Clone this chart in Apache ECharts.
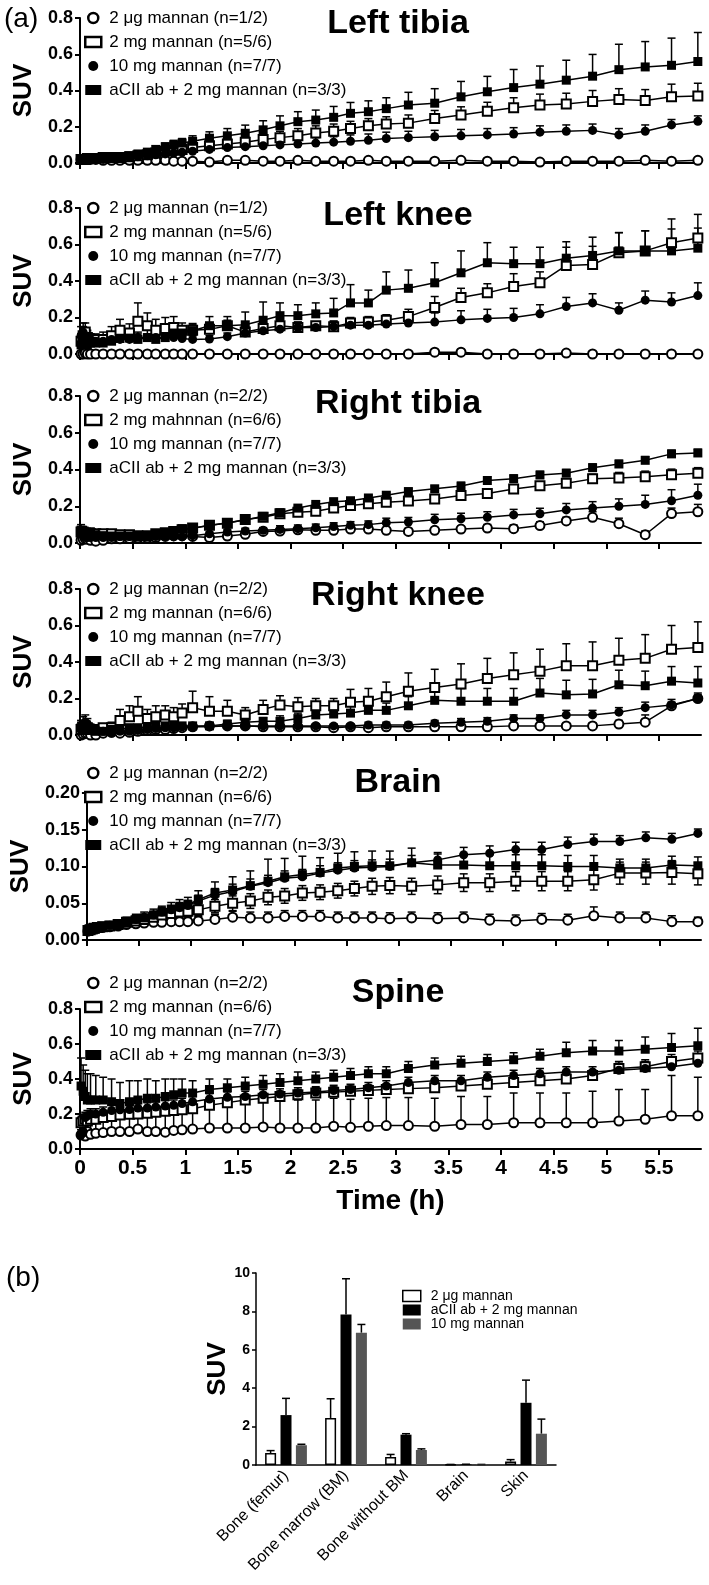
<!DOCTYPE html>
<html><head><meta charset="utf-8">
<script src="https://cdn.jsdelivr.net/npm/echarts@6/dist/echarts.min.js"></script>
<style>html,body{margin:0;padding:0;background:#fff}#c{width:709px;height:1585px}</style>
</head><body><div id="c"></div>
<script>
// ---------- DATA ----------
const T = [0.01,0.03,0.05,0.07,0.1,0.15,0.22,0.3,0.38,0.47, 0.55,0.64,0.72,0.81,0.89,0.97, 1.07,1.23,1.4,1.57,1.74,1.9,2.07,2.24,2.41,2.57,2.74,2.91, 3.12,3.37,3.62,3.87,4.12,4.37,4.62,4.87,5.12,5.37,5.62,5.87];
const xTickVals = [0,0.5,1,1.5,2,2.5,3,3.5,4,4.5,5,5.5];
const xTickLabels = ['0','0.5','1','1.5','2','2.5','3','3.5','4','4.5','5','5.5'];

const namesA = ['2 μg mannan (n=1/2)','2 mg mannan (n=5/6)','10 mg mannan (n=7/7)','aCII ab + 2 mg mannan (n=3/3)'];
const namesRT = ['2 μg mannan (n=2/2)','2 mg mahnnan (n=6/6)','10 mg mannan (n=7/7)','aCII ab + 2 mg mannan (n=3/3)'];
const namesB = ['2 μg mannan (n=2/2)','2 mg mannan (n=6/6)','10 mg mannan (n=7/7)','aCII ab + 2 mg mannan (n=3/3)'];

// Left tibia
const lt_ug = [0.02,0.02,0.02,0.02,0.02,0.02,0.015,0.015,0.015,0.015, 0.015,0.015,0.015,0.015,0.01,0.01, 0.01,0.005,0.015,0.015,0.01,0.01,0.015,0.01,0.01,0.01,0.015,0.01, 0.01,0.01,0.015,0.01,0.01,0.005,0.01,0.01,0.01,0.015,0.01,0.015];
const lt_2mg = [0.02,0.02,0.02,0.025,0.025,0.025,0.03,0.03,0.03,0.035, 0.04,0.045,0.055,0.065,0.07,0.075, 0.085,0.095,0.105,0.115,0.13,0.14,0.15,0.165,0.175,0.19,0.205,0.215, 0.22,0.245,0.265,0.285,0.305,0.32,0.325,0.34,0.35,0.345,0.365,0.37];
const lt_2mg_e = [0.005,0.005,0.005,0.005,0.005,0.005,0.005,0.005,0.01,0.01, 0.01,0.015,0.015,0.02,0.02,0.025, 0.025,0.03,0.03,0.03,0.035,0.035,0.04,0.04,0.04,0.04,0.04,0.04, 0.045,0.045,0.045,0.05,0.055,0.06,0.06,0.06,0.06,0.06,0.07,0.07];
const lt_10 = [0.02,0.02,0.02,0.02,0.02,0.02,0.02,0.025,0.025,0.03, 0.035,0.04,0.045,0.05,0.055,0.06, 0.065,0.075,0.085,0.09,0.095,0.1,0.105,0.11,0.115,0.12,0.125,0.135, 0.14,0.145,0.15,0.155,0.16,0.17,0.175,0.18,0.155,0.175,0.21,0.23];
const lt_10_e = [0.005,0.005,0.005,0.005,0.005,0.005,0.01,0.01,0.01,0.01, 0.01,0.015,0.015,0.015,0.02,0.02, 0.02,0.025,0.025,0.03,0.03,0.03,0.03,0.03,0.03,0.035,0.035,0.035, 0.035,0.035,0.035,0.035,0.035,0.035,0.035,0.035,0.035,0.035,0.03,0.03];
const lt_ab = [0.02,0.02,0.02,0.02,0.025,0.025,0.03,0.03,0.035,0.04, 0.05,0.06,0.075,0.09,0.1,0.11, 0.12,0.137,0.15,0.164,0.183,0.205,0.228,0.237,0.252,0.274,0.283,0.3, 0.32,0.33,0.365,0.393,0.416,0.435,0.457,0.479,0.515,0.53,0.539,0.56];
const lt_ab_e = [0.005,0.005,0.005,0.005,0.005,0.005,0.005,0.01,0.01,0.01, 0.01,0.015,0.02,0.02,0.025,0.025, 0.03,0.035,0.04,0.045,0.05,0.055,0.055,0.055,0.06,0.06,0.06,0.06, 0.07,0.08,0.085,0.085,0.1,0.1,0.11,0.12,0.14,0.14,0.15,0.16];

// Left knee
const lk_ug = [0,0,0.005,0,0,0,0,0,0,0, 0,0,0,0,0,0, 0,0,0,0,0,0,0,0,0,0,0,0, 0,0.01,0.01,0,0,0,0.005,0,0,0,0,0];
const lk_2mg = [0.07,0.1,0.12,0.09,0.08,0.08,0.08,0.1,0.13,0.115, 0.18,0.155,0.13,0.14,0.145,0.13, 0.13,0.135,0.155,0.12,0.14,0.155,0.145,0.155,0.15,0.17,0.175,0.185, 0.205,0.255,0.31,0.335,0.37,0.39,0.485,0.49,0.555,0.565,0.61,0.635];
const lk_2mg_e = [0.04,0.05,0.05,0.04,0.03,0.03,0.04,0.05,0.06,0.05, 0.1,0.07,0.06,0.06,0.06,0.04, 0.03,0.03,0.03,0.03,0.03,0.03,0.03,0.02,0.03,0.03,0.03,0.03, 0.04,0.06,0.05,0.05,0.07,0.06,0.1,0.1,0.11,0.11,0.13,0.13];
const lk_10 = [0.1,0.12,0.1,0.09,0.08,0.07,0.07,0.08,0.08,0.08, 0.09,0.09,0.09,0.09,0.09,0.085, 0.08,0.082,0.095,0.115,0.127,0.136,0.145,0.145,0.15,0.158,0.158,0.164, 0.17,0.175,0.187,0.195,0.2,0.22,0.26,0.28,0.24,0.295,0.285,0.32];
const lk_10_e = [0.05,0.05,0.04,0.03,0.03,0.03,0.02,0.02,0.02,0.02, 0.02,0.02,0.02,0.02,0.02,0.02, 0.02,0.02,0.02,0.02,0.03,0.03,0.03,0.03,0.03,0.03,0.03,0.04, 0.04,0.05,0.05,0.05,0.05,0.05,0.05,0.05,0.04,0.05,0.05,0.07];
const lk_ab = [0.05,0.06,0.06,0.05,0.06,0.06,0.06,0.07,0.085,0.087, 0.08,0.09,0.08,0.09,0.115,0.115, 0.127,0.155,0.155,0.16,0.185,0.21,0.21,0.22,0.225,0.28,0.28,0.35, 0.36,0.39,0.445,0.5,0.495,0.495,0.525,0.54,0.565,0.565,0.565,0.58];
const lk_ab_e = [0.05,0.06,0.05,0.04,0.03,0.03,0.03,0.03,0.04,0.04, 0.04,0.04,0.04,0.03,0.03,0.03, 0.04,0.05,0.05,0.07,0.1,0.07,0.06,0.06,0.08,0.1,0.07,0.1, 0.1,0.11,0.12,0.11,0.09,0.09,0.09,0.1,0.1,0.11,0.12,0.11];

// Right tibia
const rt_ug = [0.015,0.02,0.025,0.02,0.015,0.01,0.015,0.023,0.023,0.025, 0.027,0.027,0.03,0.036,0.04,0.04, 0.036,0.03,0.038,0.047,0.063,0.065,0.072,0.069,0.069,0.076,0.076,0.069, 0.063,0.069,0.076,0.081,0.078,0.095,0.12,0.14,0.105,0.045,0.16,0.17];
const rt_ug_e = [0.01,0.01,0.01,0.01,0.01,0.01,0.01,0.01,0.01,0.01, 0.01,0.01,0.01,0.01,0.01,0.01, 0.01,0.01,0.01,0.01,0.01,0.015,0.015,0.015,0.015,0.015,0.015,0.015, 0.015,0.015,0.015,0.02,0.02,0.02,0.02,0.03,0.03,0.02,0.03,0.04];
const rt_2mg = [0.06,0.06,0.055,0.05,0.05,0.05,0.05,0.05,0.045,0.045, 0.04,0.04,0.05,0.056,0.063,0.072, 0.081,0.096,0.108,0.128,0.14,0.159,0.168,0.173,0.19,0.204,0.213,0.222, 0.228,0.24,0.258,0.27,0.294,0.312,0.325,0.349,0.354,0.361,0.372,0.38];
const rt_2mg_e = [0.02,0.02,0.02,0.02,0.01,0.01,0.01,0.01,0.01,0.01, 0.01,0.01,0.01,0.01,0.01,0.01, 0.01,0.01,0.015,0.015,0.015,0.02,0.02,0.02,0.02,0.02,0.02,0.02, 0.02,0.02,0.02,0.02,0.02,0.02,0.025,0.025,0.03,0.03,0.03,0.03];
const rt_10 = [0.05,0.04,0.03,0.03,0.03,0.03,0.03,0.03,0.035,0.035, 0.035,0.035,0.035,0.035,0.033,0.033, 0.04,0.05,0.06,0.065,0.069,0.074,0.078,0.083,0.09,0.096,0.1,0.11, 0.114,0.126,0.132,0.14,0.153,0.159,0.18,0.19,0.2,0.21,0.23,0.26];
const rt_10_e = [0.02,0.02,0.01,0.01,0.01,0.01,0.01,0.01,0.01,0.01, 0.01,0.01,0.01,0.01,0.01,0.01, 0.01,0.01,0.015,0.015,0.015,0.02,0.02,0.02,0.02,0.02,0.02,0.025, 0.025,0.03,0.03,0.03,0.03,0.03,0.035,0.035,0.04,0.05,0.06,0.06];
const rt_ab = [0.07,0.06,0.05,0.05,0.06,0.045,0.04,0.038,0.038,0.038, 0.038,0.04,0.047,0.056,0.065,0.078, 0.08,0.095,0.11,0.125,0.145,0.165,0.19,0.21,0.225,0.23,0.245,0.26, 0.28,0.295,0.31,0.34,0.35,0.37,0.38,0.41,0.43,0.45,0.485,0.49];
const rt_ab_e = [0.03,0.03,0.02,0.02,0.02,0.01,0.01,0.01,0.01,0.01, 0.01,0.01,0.01,0.01,0.01,0.01, 0.01,0.01,0.01,0.01,0.01,0.01,0.01,0.01,0.015,0.015,0.015,0.015, 0.015,0.015,0.02,0.02,0.02,0.02,0.02,0.02,0.02,0.02,0.02,0.02];

// Right knee
const rk_ug = [0,0.005,0.01,0.01,0,0,0.01,0.015,0.01,0.015, 0.02,0.025,0.03,0.03,0.035,0.04, 0.045,0.05,0.05,0.05,0.045,0.045,0.045,0.045,0.04,0.045,0.04,0.045, 0.045,0.045,0.045,0.045,0.05,0.05,0.05,0.05,0.06,0.07,0.16,0.2];
const rk_ug_e = [0.005,0.005,0.005,0.005,0.005,0.005,0.005,0.005,0.005,0.005, 0.005,0.005,0.005,0.005,0.005,0.005, 0.01,0.01,0.01,0.01,0.01,0.01,0.01,0.01,0.01,0.01,0.01,0.01, 0.01,0.01,0.01,0.01,0.01,0.01,0.01,0.015,0.02,0.04,0.02,0.02];
const rk_2mg = [0.03,0.04,0.05,0.04,0.03,0.03,0.04,0.04,0.08,0.1, 0.13,0.09,0.1,0.11,0.1,0.12, 0.15,0.13,0.13,0.11,0.14,0.165,0.155,0.16,0.16,0.18,0.185,0.21, 0.24,0.26,0.28,0.31,0.33,0.35,0.38,0.38,0.41,0.42,0.47,0.48];
const rk_2mg_e = [0.02,0.03,0.03,0.02,0.02,0.02,0.02,0.03,0.06,0.06, 0.08,0.05,0.06,0.05,0.05,0.05, 0.09,0.08,0.06,0.04,0.05,0.05,0.05,0.04,0.04,0.07,0.07,0.08, 0.1,0.1,0.11,0.11,0.12,0.12,0.12,0.13,0.12,0.13,0.13,0.14];
const rk_10 = [0.05,0.06,0.07,0.06,0.04,0.03,0.02,0.01,0.02,0.02, 0.025,0.03,0.035,0.04,0.04,0.045, 0.045,0.045,0.05,0.05,0.05,0.05,0.05,0.05,0.05,0.05,0.055,0.055, 0.055,0.065,0.07,0.075,0.09,0.09,0.11,0.11,0.125,0.15,0.165,0.2];
const rk_10_e = [0.03,0.04,0.04,0.03,0.02,0.01,0.01,0.01,0.01,0.01, 0.01,0.01,0.01,0.01,0.01,0.01, 0.01,0.01,0.01,0.01,0.01,0.01,0.01,0.01,0.01,0.01,0.015,0.015, 0.015,0.015,0.02,0.02,0.02,0.02,0.025,0.025,0.025,0.03,0.03,0.03];
const rk_ab = [0.04,0.05,0.04,0.03,0.03,0.02,0.02,0.03,0.03,0.04, 0.04,0.045,0.05,0.05,0.05,0.05, 0.05,0.05,0.06,0.07,0.075,0.075,0.09,0.11,0.115,0.12,0.135,0.135, 0.16,0.19,0.185,0.185,0.185,0.23,0.22,0.225,0.275,0.27,0.295,0.285];
const rk_ab_e = [0.03,0.03,0.02,0.02,0.01,0.01,0.01,0.01,0.01,0.01, 0.01,0.01,0.01,0.01,0.01,0.01, 0.01,0.01,0.02,0.02,0.02,0.03,0.03,0.04,0.04,0.04,0.04,0.04, 0.05,0.06,0.07,0.07,0.07,0.08,0.08,0.08,0.08,0.08,0.08,0.09];

// Brain
const br_ug = [0.012,0.013,0.014,0.015,0.016,0.017,0.018,0.019,0.021,0.022, 0.023,0.024,0.024,0.025,0.025,0.025, 0.026,0.028,0.031,0.03,0.03,0.032,0.032,0.032,0.03,0.03,0.03,0.029, 0.03,0.029,0.03,0.027,0.026,0.028,0.027,0.033,0.03,0.03,0.025,0.025];
const br_ug_e = [0.001,0.001,0.001,0.001,0.002,0.002,0.002,0.002,0.002,0.003, 0.003,0.003,0.004,0.004,0.004,0.005, 0.006,0.007,0.008,0.008,0.008,0.008,0.008,0.008,0.008,0.008,0.008,0.008, 0.008,0.008,0.008,0.008,0.008,0.008,0.008,0.012,0.008,0.008,0.008,0.006];
const br_2mg = [0.013,0.014,0.015,0.016,0.017,0.018,0.019,0.021,0.024,0.026, 0.028,0.031,0.034,0.036,0.038,0.039, 0.041,0.046,0.05,0.053,0.058,0.06,0.064,0.065,0.067,0.07,0.073,0.074, 0.073,0.075,0.078,0.078,0.08,0.08,0.08,0.082,0.091,0.091,0.092,0.09];
const br_2mg_e = [0.001,0.001,0.001,0.001,0.002,0.002,0.002,0.003,0.003,0.004, 0.004,0.005,0.006,0.006,0.007,0.007, 0.008,0.009,0.01,0.01,0.01,0.01,0.01,0.01,0.01,0.01,0.011,0.011, 0.011,0.012,0.012,0.012,0.013,0.013,0.013,0.014,0.015,0.015,0.016,0.015];
const br_10 = [0.013,0.014,0.015,0.016,0.017,0.018,0.02,0.022,0.025,0.028, 0.031,0.034,0.038,0.041,0.044,0.047, 0.053,0.061,0.066,0.073,0.078,0.084,0.086,0.091,0.095,0.098,0.099,0.1, 0.105,0.109,0.116,0.118,0.123,0.123,0.13,0.134,0.134,0.139,0.137,0.145];
const br_10_e = [0.001,0.001,0.001,0.001,0.002,0.002,0.002,0.003,0.003,0.004, 0.004,0.005,0.006,0.006,0.007,0.007, 0.008,0.009,0.01,0.01,0.01,0.01,0.01,0.01,0.01,0.01,0.01,0.01, 0.01,0.01,0.01,0.01,0.01,0.01,0.01,0.01,0.008,0.008,0.008,0.006];
const br_ab = [0.014,0.015,0.016,0.017,0.018,0.019,0.02,0.022,0.025,0.028, 0.03,0.034,0.038,0.042,0.045,0.048, 0.055,0.064,0.068,0.074,0.08,0.086,0.089,0.092,0.098,0.1,0.101,0.101, 0.105,0.102,0.102,0.101,0.101,0.101,0.1,0.1,0.098,0.098,0.102,0.101];
const br_ab_e = [0.002,0.002,0.002,0.002,0.003,0.003,0.004,0.005,0.006,0.007, 0.008,0.008,0.008,0.009,0.01,0.01, 0.012,0.015,0.018,0.02,0.03,0.025,0.025,0.02,0.02,0.02,0.02,0.02, 0.02,0.015,0.015,0.015,0.015,0.015,0.015,0.015,0.012,0.012,0.012,0.012];

// Spine
const sp_ug = [0.08,0.09,0.074,0.1,0.084,0.09,0.094,0.1,0.1,0.1, 0.114,0.1,0.1,0.096,0.106,0.11, 0.114,0.12,0.12,0.12,0.126,0.12,0.12,0.12,0.13,0.124,0.13,0.134, 0.134,0.13,0.14,0.14,0.15,0.15,0.15,0.15,0.16,0.17,0.19,0.19];
const sp_ug_e = [0.03,0.04,0.05,0.06,0.06,0.07,0.08,0.08,0.09,0.1, 0.1,0.11,0.12,0.12,0.13,0.14, 0.15,0.15,0.15,0.16,0.16,0.16,0.16,0.16,0.16,0.16,0.16,0.16, 0.16,0.16,0.16,0.16,0.17,0.17,0.17,0.18,0.18,0.17,0.23,0.22];
const sp_2mg = [0.15,0.16,0.17,0.16,0.17,0.17,0.18,0.186,0.194,0.198, 0.2,0.204,0.21,0.216,0.22,0.225, 0.23,0.25,0.265,0.28,0.29,0.3,0.31,0.32,0.325,0.33,0.335,0.34, 0.345,0.35,0.36,0.37,0.38,0.39,0.4,0.42,0.46,0.47,0.5,0.52];
const sp_2mg_e = [0.03,0.03,0.03,0.03,0.03,0.03,0.03,0.03,0.03,0.03, 0.03,0.03,0.03,0.03,0.03,0.03, 0.03,0.03,0.03,0.03,0.03,0.03,0.03,0.03,0.03,0.03,0.03,0.03, 0.03,0.03,0.03,0.03,0.03,0.03,0.03,0.03,0.04,0.04,0.04,0.04];
const sp_10 = [0.08,0.1,0.18,0.19,0.2,0.2,0.21,0.22,0.224,0.226, 0.234,0.234,0.24,0.246,0.25,0.26, 0.27,0.286,0.296,0.3,0.31,0.314,0.32,0.326,0.334,0.34,0.35,0.36, 0.38,0.39,0.39,0.41,0.42,0.43,0.44,0.44,0.45,0.46,0.47,0.49];
const sp_10_e = [0.02,0.03,0.03,0.03,0.03,0.03,0.03,0.03,0.03,0.03, 0.03,0.03,0.03,0.03,0.03,0.03, 0.03,0.03,0.03,0.03,0.03,0.03,0.03,0.03,0.03,0.03,0.03,0.03, 0.03,0.03,0.03,0.03,0.03,0.03,0.03,0.03,0.04,0.04,0.04,0.04];
const sp_ab = [0.36,0.33,0.3,0.28,0.28,0.28,0.28,0.27,0.26,0.27, 0.28,0.29,0.29,0.3,0.31,0.32, 0.32,0.34,0.35,0.36,0.37,0.38,0.39,0.4,0.41,0.42,0.43,0.43, 0.46,0.48,0.49,0.5,0.51,0.53,0.55,0.56,0.56,0.57,0.58,0.59];
const sp_ab_e = [0.16,0.15,0.15,0.15,0.15,0.14,0.13,0.13,0.12,0.12, 0.11,0.11,0.1,0.1,0.09,0.08, 0.07,0.06,0.05,0.05,0.05,0.05,0.05,0.04,0.04,0.04,0.04,0.04, 0.04,0.04,0.04,0.04,0.04,0.04,0.06,0.06,0.06,0.07,0.08,0.1];

// Panel (b) bar chart
const barCats = ['Bone (femur)','Bone marrow (BM)','Bone without BM','Brain','Skin'];
const barNames = ['2 μg mannan','aCII ab + 2 mg mannan','10 mg mannan'];
const bar_ug = [0.62,2.45,0.42,0.02,0.18];
const bar_ug_e = [0.13,1.0,0.13,0.01,0.1];
const bar_ab = [2.6,7.84,1.58,0.03,3.24];
const bar_ab_e = [0.87,1.86,0.05,0.01,1.18];
const bar_10 = [1.03,6.89,0.78,0.02,1.63];
const bar_10_e = [0.05,0.43,0.06,0.01,0.76];

// ---------- CHART ----------
const FONT = '"Liberation Sans", Arial, sans-serif';
const panels = [
  {title:'Left tibia', names:namesA, vals:[lt_ug,lt_2mg,lt_10,lt_ab], errs:[null,lt_2mg_e,lt_10_e,lt_ab_e], sym:[0,0,0,0], yMax:0.8, yStep:0.2, dec:1},
  {title:'Left knee', names:namesA, vals:[lk_ug,lk_2mg,lk_10,lk_ab], errs:[null,lk_2mg_e,lk_10_e,lk_ab_e], sym:[0,0,0,0], yMax:0.8, yStep:0.2, dec:1},
  {title:'Right tibia', names:namesRT, vals:[rt_ug,rt_2mg,rt_10,rt_ab], errs:[rt_ug_e,rt_2mg_e,rt_10_e,rt_ab_e], sym:[0,0,0,0], yMax:0.8, yStep:0.2, dec:1},
  {title:'Right knee', names:namesB, vals:[rk_ug,rk_2mg,rk_10,rk_ab], errs:[rk_ug_e,rk_2mg_e,rk_10_e,rk_ab_e], sym:[0,0,0,0], yMax:0.8, yStep:0.2, dec:1},
  {title:'Brain', names:namesB, vals:[br_ug,br_2mg,br_10,br_ab], errs:[br_ug_e,br_2mg_e,br_10_e,br_ab_e], sym:[0,1,0,0], yMax:0.2, yStep:0.05, dec:2},
  {title:'Spine', names:namesB, vals:[sp_ug,sp_2mg,sp_10,sp_ab], errs:[sp_ug_e,sp_2mg_e,sp_10_e,sp_ab_e], sym:[0,0,0,0], yMax:0.8, yStep:0.2, dec:1}
];
const layout = [
  {top:18, h:145, legendTop:6, titleY:7},
  {top:208, h:146, legendTop:196, titleY:199},
  {top:396, h:147, legendTop:384, titleY:387},
  {top:589, h:146, legendTop:577, titleY:579},
  {top:793, h:147, legendTop:761, titleY:766},
  {top:1009, h:140, legendTop:971, titleY:976}
];
const markers = [
  {symbol:'circle', fill:'#fff', bw:2},
  {symbol:'rect', fill:'#fff', bw:2},
  {symbol:'circle', fill:'#000', bw:0},
  {symbol:'rect', fill:'#000', bw:0}
];

function errRender(sym, off){
  return function(params, api){
    const e = api.value(2);
    if (!(e > 0)) return null;
    const x = api.value(0), y = api.value(1);
    const p0 = api.coord([x, y]);
    const p1 = api.coord([x, y + e]);
    const dx = off || 0;
    const st = {stroke:'#000', lineWidth:1.5};
    const ch = [
      {type:'line', shape:{x1:p0[0]+dx, y1:p0[1], x2:p1[0]+dx, y2:p1[1]}, style:st},
      {type:'line', shape:{x1:p1[0]+dx-4, y1:p1[1], x2:p1[0]+dx+4, y2:p1[1]}, style:st}
    ];
    if (sym) {
      const p2 = api.coord([x, y - e]);
      ch.push({type:'line', shape:{x1:p0[0]+dx, y1:p0[1], x2:p2[0]+dx, y2:p2[1]}, style:st});
      ch.push({type:'line', shape:{x1:p2[0]+dx-4, y1:p2[1], x2:p2[0]+dx+4, y2:p2[1]}, style:st});
    }
    return {type:'group', children:ch};
  };
}

const grid = [], xAxis = [], yAxis = [], series = [], legend = [], graphic = [];
const axisLineStyle = {color:'#000', width:2};

panels.forEach((p, i) => {
  const L = layout[i];
  grid.push({left:80, top:L.top, width:621, height:L.h});
  xAxis.push({
    type:'value', gridIndex:i, min:0, max:5.9,
    axisLine:{onZero:false, lineStyle:axisLineStyle},
    axisTick:{customValues:xTickVals, length:6, lineStyle:axisLineStyle},
    axisLabel:{show:i===5, customValues:xTickVals,
      formatter:v => xTickLabels[xTickVals.findIndex(t => Math.abs(t - v) < 1e-6)],
      color:'#000', fontFamily:FONT, fontWeight:'bold', fontSize:21, margin:9},
    splitLine:{show:false},
    name: i===5 ? 'Time (h)' : '', nameLocation:'middle', nameGap:38,
    nameTextStyle:{color:'#000', fontFamily:FONT, fontWeight:'bold', fontSize:28}
  });
  yAxis.push({
    type:'value', gridIndex:i, min:0, max:p.yMax, interval:p.yStep,
    axisLine:{show:true, lineStyle:axisLineStyle},
    axisTick:{show:true, length:5, lineStyle:axisLineStyle},
    axisLabel:{formatter:v => v.toFixed(p.dec), color:'#000', fontFamily:FONT, fontWeight:'bold', fontSize:18, margin:7},
    splitLine:{show:false},
    name:'SUV', nameLocation:'middle', nameRotate:90, nameGap:36,
    nameTextStyle:{color:'#000', fontFamily:FONT, fontWeight:'bold', fontSize:26}
  });
  p.names.forEach((n, k) => {
    const m = markers[k];
    if (p.errs[k]) {
      series.push({
        type:'custom', xAxisIndex:i, yAxisIndex:i, silent:true, z:2,
        renderItem: errRender(p.sym[k], 0), encode:{x:0, y:1},
        data: T.map((t, j) => [t, p.vals[k][j], p.errs[k][j]])
      });
    }
    series.push({
      type:'line', name:n, xAxisIndex:i, yAxisIndex:i, z:3,
      data: T.map((t, j) => [t, p.vals[k][j]]),
      symbol:m.symbol, symbolSize:9,
      itemStyle:{color:m.fill, borderColor:'#000', borderWidth:m.bw},
      lineStyle:{color:'#000', width:1.5}
    });
  });
  legend.push({
    orient:'vertical', left:84, top:L.legendTop, itemWidth:16, itemHeight:10, itemGap:0, padding:0,
    selectedMode:false,
    textStyle:{fontFamily:FONT, fontSize:17, lineHeight:24, color:'#000', padding:[0,0,0,3]},
    data: p.names.map((n, k) => ({
      name:n, icon: markers[k].symbol,
      itemStyle:{color:markers[k].fill, borderColor:'#000', borderWidth: k < 2 ? 2.5 : 0}
    }))
  });
  graphic.push({type:'text', x:398, y:L.titleY, silent:true,
    style:{text:p.title, fill:'#000', font:'bold 34px ' + FONT, align:'center', verticalAlign:'top'}});
});

// bar chart (b)
const bi = 6;
grid.push({left:256, top:1273, width:300, height:192});
xAxis.push({
  type:'category', gridIndex:bi, data:barCats,
  axisLine:{lineStyle:{color:'#000', width:1.5}},
  axisTick:{alignWithLabel:true, length:5, lineStyle:{color:'#000', width:1.5}},
  axisLabel:{rotate:45, interval:0, fontSize:16, fontFamily:FONT, color:'#000', margin:8}
});
yAxis.push({
  type:'value', gridIndex:bi, min:0, max:10, interval:2,
  axisLine:{show:true, lineStyle:{color:'#000', width:1.5}},
  axisTick:{show:true, length:4, lineStyle:{color:'#000', width:1.5}},
  axisLabel:{color:'#000', fontFamily:FONT, fontWeight:'bold', fontSize:14, margin:6},
  splitLine:{show:false},
  name:'SUV', nameLocation:'middle', nameRotate:90, nameGap:25,
  nameTextStyle:{color:'#000', fontFamily:FONT, fontWeight:'bold', fontSize:26}
});
const barVals = [bar_ug, bar_ab, bar_10];
const barErrs = [bar_ug_e, bar_ab_e, bar_10_e];
const barColors = [{c:'#fff', b:'#000', w:1.5}, {c:'#000', b:'#000', w:0}, {c:'#555', b:'#555', w:0}];
const BW = 11, GAP = 0.4;
barVals.forEach((vals, k) => {
  series.push({
    type:'bar', name:barNames[k], xAxisIndex:bi, yAxisIndex:bi, data:vals,
    barWidth:BW, barGap:(GAP*100)+'%', z:3,
    itemStyle:{color:barColors[k].c, borderColor:barColors[k].b, borderWidth:barColors[k].w}
  });
  series.push({
    type:'custom', xAxisIndex:bi, yAxisIndex:bi, silent:true, z:2, encode:{x:0, y:1},
    renderItem: errRender(false, (k - 1) * BW * (1 + GAP)),
    data: vals.map((v, j) => [j, v, barErrs[k][j]])
  });
});
legend.push({
  orient:'vertical', left:402, top:1289, itemWidth:18, itemHeight:11, itemGap:0, padding:0,
  selectedMode:false,
  textStyle:{fontFamily:FONT, fontSize:14, lineHeight:14, color:'#000', padding:[0,0,0,5]},
  data: barNames.map((n, k) => ({name:n, icon:'rect',
    itemStyle:{color:barColors[k].c, borderColor:'#000', borderWidth:barColors[k].w}}))
});

graphic.push({type:'text', x:4, y:5, silent:true,
  style:{text:'(a)', fill:'#000', font:'28px ' + FONT, align:'left', verticalAlign:'top'}});
graphic.push({type:'text', x:6, y:1264, silent:true,
  style:{text:'(b)', fill:'#000', font:'28px ' + FONT, align:'left', verticalAlign:'top'}});

const chart = echarts.init(document.getElementById('c'), null, {renderer:'canvas'});
chart.setOption({
  animation:false, backgroundColor:'#fff',
  grid, xAxis, yAxis, series, legend, graphic
});
</script>
</body></html>
